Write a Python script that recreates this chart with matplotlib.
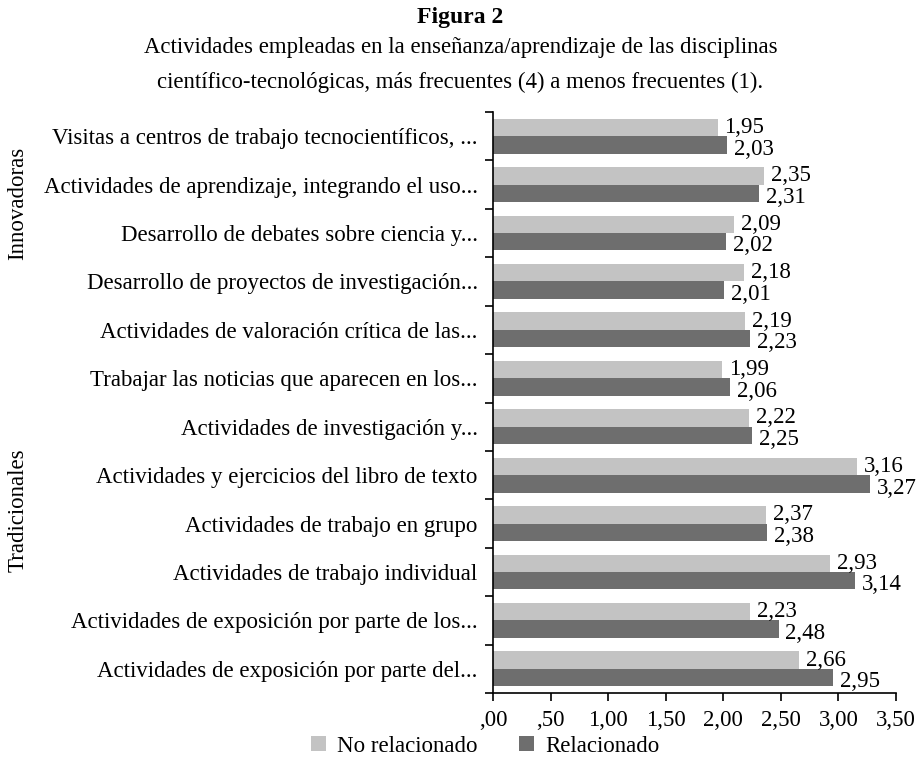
import numpy as np
import matplotlib.pyplot as plt
from matplotlib.ticker import FuncFormatter, FixedLocator

plt.rcParams['font.family'] = ['Liberation Serif', 'DejaVu Serif']

# Data (top to bottom as in the figure)
categorias = [
    'Visitas a centros de trabajo tecnocientíficos, ...',
    'Actividades de aprendizaje, integrando el uso...',
    'Desarrollo de debates sobre ciencia y...',
    'Desarrollo de proyectos de investigación...',
    'Actividades de valoración crítica de las...',
    'Trabajar las noticias que aparecen en los...',
    'Actividades de investigación y...',
    'Actividades y ejercicios del libro de texto',
    'Actividades de trabajo en grupo',
    'Actividades de trabajo individual',
    'Actividades de exposición por parte de los...',
    'Actividades de exposición por parte del...',
]
no_relacionado = [1.95, 2.35, 2.09, 2.18, 2.19, 1.99, 2.22, 3.16, 2.37, 2.93, 2.23, 2.66]
relacionado = [2.03, 2.31, 2.02, 2.01, 2.23, 2.06, 2.25, 3.27, 2.38, 3.14, 2.48, 2.95]
xticks = [0, 0.5, 1.0, 1.5, 2.0, 2.5, 3.0, 3.5]

c_light = '#c3c3c3'
c_dark = '#6e6e6e'
fs = 16.5

def fmt(v):
    s = f'{v:.2f}'.replace('.', ',')
    if s.startswith('0'):
        s = s[1:]
    return s

fig = plt.figure(figsize=(9.21, 7.78), dpi=100)
ax = fig.add_axes([493/921, 1 - 693/778, (896 - 493)/921, (693 - 112)/778])

n = len(categorias)
y = np.arange(n)
h = 0.36
ax.barh(y - h/2, no_relacionado, height=h, color=c_light, label='No relacionado')
ax.barh(y + h/2, relacionado, height=h, color=c_dark, label='Relacionado')

for yi, a, b in zip(y, no_relacionado, relacionado):
    ax.annotate(fmt(a), (a, yi - h/2), xytext=(5, 0), textcoords='offset points',
                va='center', ha='left', fontsize=fs)
    ax.annotate(fmt(b), (b, yi + h/2), xytext=(5, -3), textcoords='offset points',
                va='center', ha='left', fontsize=fs)

ax.set_ylim(n - 0.5, -0.5)
ax.set_xlim(0, 3.5)
ax.set_yticks(y)
ax.set_yticklabels(categorias, fontsize=fs)
ax.tick_params(axis='y', length=0, pad=11)
ax.yaxis.set_minor_locator(FixedLocator(np.arange(-0.5, n, 1.0)))
ax.tick_params(axis='y', which='minor', length=6, width=1.2, direction='out')
ax.set_xticks(xticks)
ax.xaxis.set_major_formatter(FuncFormatter(lambda v, p: fmt(v)))
ax.tick_params(axis='x', length=6, width=1.2, direction='out', labelsize=fs, pad=6)

for s in ['top', 'right']:
    ax.spines[s].set_visible(False)
for s in ['left', 'bottom']:
    ax.spines[s].set_linewidth(1.2)

fig.text(0.5, 1 - 18/778, 'Figura 2', ha='center', va='center', fontsize=17, fontweight='bold')
fig.text(0.5, 1 - 48/778, 'Actividades empleadas en la enseñanza/aprendizaje de las disciplinas',
         ha='center', va='center', fontsize=16.4)
fig.text(0.5, 1 - 82/778, 'científico-tecnológicas, más frecuentes (4) a menos frecuentes (1).',
         ha='center', va='center', fontsize=16.4)

fig.text(18/921, 1 - 203/778, 'Innovadoras', rotation=90, ha='center', va='center', fontsize=fs)
fig.text(18/921, 1 - 510/778, 'Tradicionales', rotation=90, ha='center', va='center', fontsize=fs)

fig.legend(loc='center', bbox_to_anchor=(485/921, 1 - 746/778), ncol=2, frameon=False,
           fontsize=fs, handlelength=0.65, handleheight=0.65, columnspacing=1.8,
           handletextpad=0.5)

fig.savefig('out.png', dpi=100)
